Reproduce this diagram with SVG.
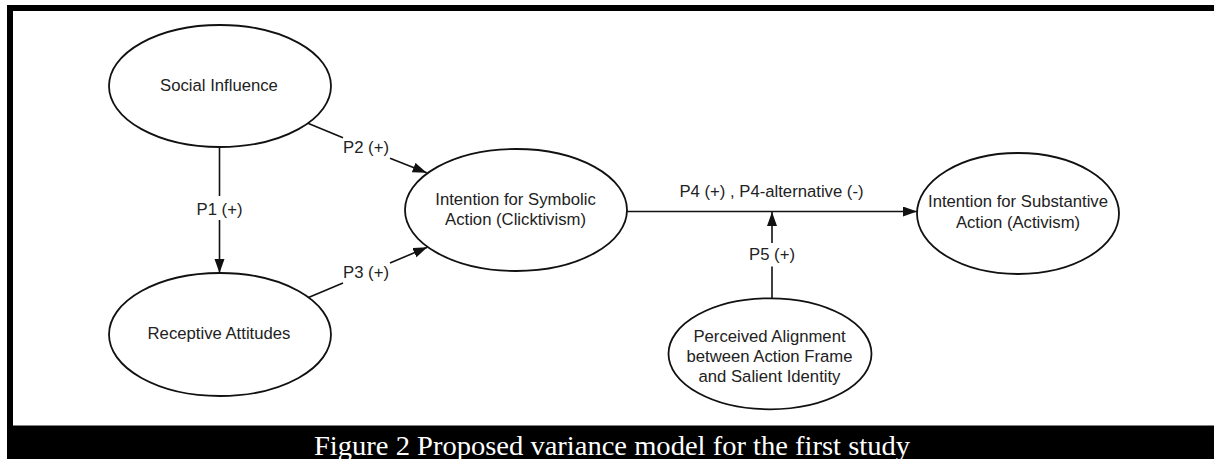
<svg xmlns="http://www.w3.org/2000/svg" width="1214" height="459" viewBox="0 0 1214 459">
<style>
.node ellipse{fill:#fff;stroke:#111;stroke-width:1.8}
.node text{font-family:"Liberation Sans",Arial,sans-serif;font-size:16.7px;fill:#222;text-anchor:middle}
.conn line{stroke:#111;stroke-width:1.6}
.lbl{font-family:"Liberation Sans",Arial,sans-serif;font-size:16.7px;fill:#222;text-anchor:middle}
.frame{fill:#000}
.cap{font-family:"Liberation Serif","Times New Roman",serif;font-size:28px;fill:#fff;text-anchor:middle}
</style>
<defs>
<marker id="arr" markerUnits="userSpaceOnUse" markerWidth="15" markerHeight="11" refX="14" refY="5" orient="auto">
<path d="M0,0 L14,5 L0,10 z" fill="#111"/>
</marker>
</defs>
<rect width="1214" height="459" fill="#fff"/>
<rect class="frame" x="7" y="5" width="1207" height="6"/>
<rect class="frame" x="7" y="5" width="6" height="454"/>
<rect class="frame" x="7" y="425.5" width="1207" height="33.5"/>
<text class="cap" x="612" y="455" textLength="596" lengthAdjust="spacingAndGlyphs">Figure 2 Proposed variance model for the first study</text>

<g id="connectors" class="conn">
<line x1="219.5" y1="147" x2="219.5" y2="196"/>
<line x1="219.5" y1="220" x2="219.5" y2="273" marker-end="url(#arr)"/>
<line x1="306.7" y1="122.7" x2="343" y2="137.8"/>
<line x1="390" y1="158.2" x2="426.7" y2="172.7" marker-end="url(#arr)"/>
<line x1="306.7" y1="298.3" x2="343" y2="283"/>
<line x1="390" y1="263" x2="427.3" y2="247.3" marker-end="url(#arr)"/>
<line x1="627" y1="211.5" x2="917" y2="211.5" marker-end="url(#arr)"/>
<line x1="772" y1="298.5" x2="772" y2="266.5"/>
<line x1="772" y1="243" x2="772" y2="212" marker-end="url(#arr)"/>
<text class="lbl" x="219.5" y="215">P1 (+)</text>
<text class="lbl" x="366" y="153.3">P2 (+)</text>
<text class="lbl" x="366" y="278.3">P3 (+)</text>
<text class="lbl" x="771.5" y="196.7">P4 (+) , P4-alternative (-)</text>
<text class="lbl" x="772" y="260">P5 (+)</text>
</g>

<g id="social-influence" class="node">
<ellipse cx="220" cy="86" rx="111" ry="61"/>
<text x="219" y="90.7">Social Influence</text>
</g>
<g id="receptive-attitudes" class="node">
<ellipse cx="220" cy="334.5" rx="111" ry="61.5"/>
<text x="219" y="339.3">Receptive Attitudes</text>
</g>
<g id="symbolic-action" class="node">
<ellipse cx="516" cy="210" rx="111" ry="61"/>
<text x="515.5" y="205">Intention for Symbolic</text>
<text x="515.5" y="225">Action (Clicktivism)</text>
</g>
<g id="substantive-action" class="node">
<ellipse cx="1018" cy="213.5" rx="101" ry="60.5"/>
<text x="1018" y="207.3">Intention for Substantive</text>
<text x="1018" y="227.7">Action (Activism)</text>
</g>
<g id="perceived-alignment" class="node">
<ellipse cx="770" cy="353.8" rx="101.5" ry="55.5"/>
<text x="769.5" y="342">Perceived Alignment</text>
<text x="769.5" y="362">between Action Frame</text>
<text x="769.5" y="382">and Salient Identity</text>
</g>
</svg>
